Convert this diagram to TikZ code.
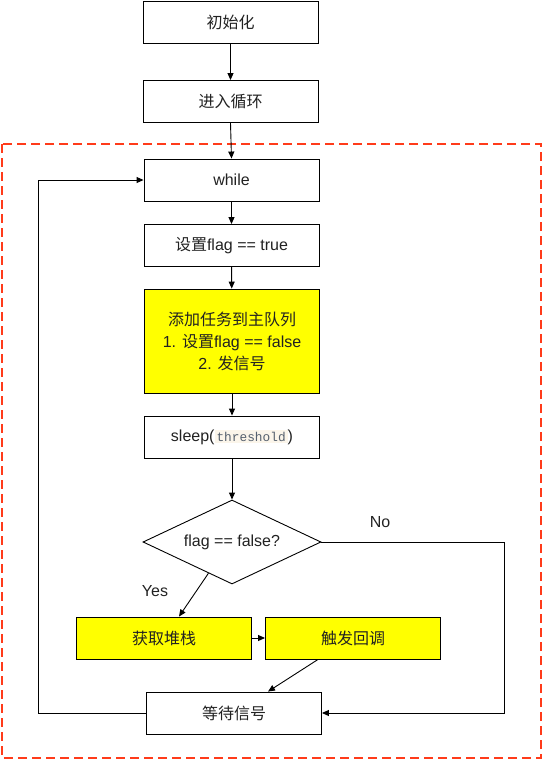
\documentclass[tikz,border=0pt]{standalone}
\usepackage{fontspec}
\setmainfont{Liberation Sans}
\setmonofont{Liberation Mono}
\newfontfamily\cjk{Noto Sans CJK SC}
\usetikzlibrary{shapes.geometric,arrows.meta,calc}
\definecolor{boxyellow}{HTML}{FFFF00}
\definecolor{dashred}{HTML}{FF3B1A}
\definecolor{codefg}{HTML}{55606E}
\definecolor{codebg}{HTML}{FBF5EA}
\definecolor{txt}{HTML}{222222}
\tikzset{
  x=1pt, y=-1pt,
  every node/.style={font=\fontsize{16}{22}\selectfont, text=txt},
  stepbox/.style={draw=black, line width=0.9pt, fill=white, minimum width=175pt, minimum height=42pt, inner sep=0pt, align=center},
  hlbox/.style={stepbox, fill=boxyellow},
  decision/.style={draw=black, line width=0.9pt, fill=white, diamond, aspect=2.12, minimum width=178pt, minimum height=84pt, inner sep=0pt},
  conn/.style={draw=black, line width=0.9pt, -{Triangle[length=7pt,width=6pt]}},
  plainlabel/.style={inner sep=0pt}
}
\begin{document}
\begin{tikzpicture}
\useasboundingbox (0,0) rectangle (543,761);
\draw[dashred, line width=1.8pt, dash pattern=on 9pt off 5pt] (2,144) rectangle (541,758);

\node[stepbox] (init) at (230.5,22.5) {\cjk 初始化};
\node[stepbox] (loop) at (230.5,101.5) {\cjk 进入循环};
\node[stepbox] (while) at (231.5,180) {while};
\node[stepbox] (setflag) at (231.5,245.5) {{\cjk 设置}flag == true};
\node[hlbox, minimum height=104pt] (enqueue) at (232,341) {{\cjk 添加任务到主队列}\\1. {\cjk 设置}flag == false\\2. {\cjk 发信号}};
\node[stepbox] (sleep) at (232,437) {sleep(\begingroup\setlength{\fboxsep}{2pt}\colorbox{codebg}{\fontsize{12.8}{14}\selectfont\ttfamily\color{codefg}threshold}\endgroup)};
\node[decision] (check) at (232,542) {flag == false?};
\node[hlbox] (stack) at (164,638) {\cjk 获取堆栈};
\node[hlbox] (callback) at (353,638) {\cjk 触发回调};
\node[stepbox] (wait) at (234,713) {\cjk 等待信号};

\node[plainlabel] (nolabel) at (380,522) {No};
\node[plainlabel] (yeslabel) at (155,591) {Yes};

\coordinate (noturn1) at (504,542);
\coordinate (noturn2) at (504,713);
\coordinate (back1) at (38,713);
\coordinate (back2) at (38,180);

\draw[conn] (init) -- (loop);
\draw[conn] (loop.south) -- (while.north);
\draw[conn] (while) -- (setflag);
\draw[conn] (setflag) -- (enqueue);
\draw[conn] (enqueue) -- (sleep);
\draw[conn] (sleep) -- (check);
\draw[conn] (check.233) -- ([xshift=15pt]stack.north);
\draw[conn] (stack) -- (callback);
\draw[conn] ([xshift=-35pt]callback.south) -- ([xshift=34pt]wait.north);
\draw[conn] (check.east) -- (noturn1) -- (noturn2) -- (wait.east);
\draw[conn] (wait.west) -- (back1) -- (back2) -- (while.west);
\end{tikzpicture}
\end{document}
